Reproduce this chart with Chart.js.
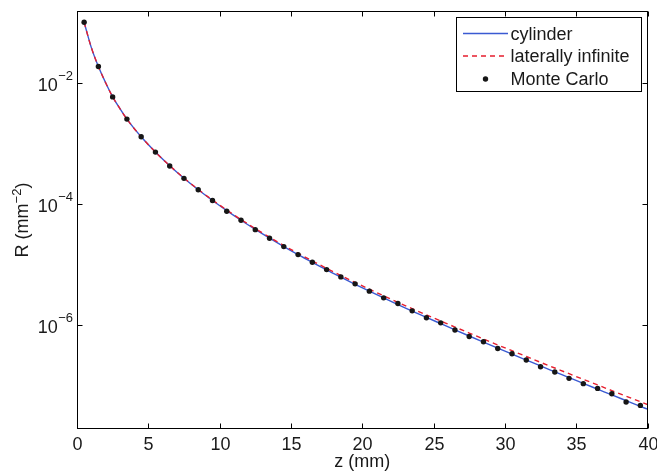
<!DOCTYPE html>
<html><head><meta charset="utf-8">
<script src="https://cdn.jsdelivr.net/npm/chart.js@4/dist/chart.umd.min.js"></script>
<style>html,body{margin:0;padding:0;background:#fff;}#wrap{width:657px;height:472px;}</style>
</head><body><div id="wrap"><canvas id="c" width="657" height="472"></canvas></div>
<script>
// ---------------- data ----------------
const seriesNames = ['cylinder', 'laterally infinite', 'Monte Carlo'];
const zCurve = [0.5,1,1.5,2,2.5,3,3.5,4.5,5.5,6.5,7.5,8.5,9.5,10.5,11.5,12.5,13.5,14.5,15.5,16.5,17.5,18.5,19.5,20.5,21.5,22.5,23.5,24.5,25.5,26.5,27.5,28.5,29.5,30.5,31.5,32.5,33.5,34.5,35.5,36.5,37.5,38.5,39.5,40];
const cylinder = [1.00e-1,3.86e-2,1.86e-2,1.015e-2,5.88e-3,3.78e-3,2.52e-3,1.287e-3,7.20e-4,4.265e-4,2.653e-4,1.715e-4,1.142e-4,7.78e-5,5.39e-5,3.80e-5,2.725e-5,1.979e-5,1.458e-5,1.087e-5,8.16e-6,6.20e-6,4.726e-6,3.634e-6,2.812e-6,2.186e-6,1.706e-6,1.341e-6,1.058e-6,8.35e-7,6.61e-7,5.24e-7,4.16e-7,3.32e-7,2.65e-7,2.117e-7,1.696e-7,1.358e-7,1.088e-7,8.75e-8,7.04e-8,5.66e-8,4.55e-8,4.09e-8];
const laterallyInfinite = [1.00e-1,3.86e-2,1.86e-2,1.015e-2,5.88e-3,3.78e-3,2.52e-3,1.287e-3,7.20e-4,4.29e-4,2.678e-4,1.738e-4,1.162e-4,7.95e-5,5.54e-5,3.92e-5,2.83e-5,2.065e-5,1.53e-5,1.147e-5,8.66e-6,6.61e-6,5.07e-6,3.92e-6,3.05e-6,2.38e-6,1.868e-6,1.476e-6,1.171e-6,9.29e-7,7.40e-7,5.89e-7,4.71e-7,3.78e-7,3.03e-7,2.43e-7,1.957e-7,1.577e-7,1.27e-7,1.027e-7,8.30e-8,6.71e-8,5.43e-8,4.89e-8];
const zMC = [0.5,1.5,2.5,3.5,4.5,5.5,6.5,7.5,8.5,9.5,10.5,11.5,12.5,13.5,14.5,15.5,16.5,17.5,18.5,19.5,20.5,21.5,22.5,23.5,24.5,25.5,26.5,27.5,28.5,29.5,30.5,31.5,32.5,33.5,34.5,35.5,36.5,37.5,38.5,39.5];
const monteCarlo = [1.00e-1,1.862e-2,5.87e-3,2.52e-3,1.29e-3,7.19e-4,4.24e-4,2.65e-4,1.72e-4,1.14e-4,7.59e-5,5.38e-5,3.77e-5,2.72e-5,1.98e-5,1.46e-5,1.09e-5,8.26e-6,6.25e-6,4.80e-6,3.64e-6,2.82e-6,2.27e-6,1.72e-6,1.32e-6,1.09e-6,8.28e-7,6.49e-7,5.31e-7,4.11e-7,3.37e-7,2.65e-7,2.05e-7,1.68e-7,1.32e-7,1.08e-7,9.02e-8,7.36e-8,5.37e-8,4.72e-8];
const xTicks = [0,5,10,15,20,25,30,35,40];
const yTickExponents = [-2,-4,-6];
const xRange = [0, 40];
const yRange = [2.0e-8, 0.148];
const xTitle = 'z (mm)';
const yTitleParts = ['R (mm', '\u22122', ')'];

// ---------------- drawing ----------------
const FONT = "'Liberation Sans', Arial, Helvetica, sans-serif";
const MAIN = 18, SUP = 13;
const TXT = '#1a1a1a';

const toPts = (xs, ys) => xs.map((x, i) => ({x, y: ys[i]}));

const decor = {
  id: 'decor',
  afterDraw(chart) {
    const {ctx, chartArea: a, scales: {x, y}} = chart;
    ctx.save();
    const L = Math.round(a.left) + 0.5, R = Math.round(a.right) - 0.5;
    const T = Math.round(a.top) - 0.5, B = Math.round(a.bottom) + 0.5;
    ctx.strokeStyle = '#000'; ctx.lineWidth = 1;
    ctx.strokeRect(L, T, R - L, B - T);
    const seg = (x1, y1, x2, y2) => { ctx.beginPath(); ctx.moveTo(x1, y1); ctx.lineTo(x2, y2); ctx.stroke(); };
    ctx.fillStyle = TXT;
    ctx.textAlign = 'center'; ctx.textBaseline = 'alphabetic';
    ctx.font = MAIN + 'px ' + FONT;
    for (const v of xTicks) {
      const px = Math.round(x.getPixelForValue(v)) + 0.5;
      seg(px, B, px, B - 5); seg(px, T, px, T + 5);
      ctx.fillText(String(v), px, 450);
    }
    ctx.fillText(xTitle, (a.left + a.right) / 2, 467);
    for (const e of yTickExponents) {
      const py = Math.round(y.getPixelForValue(Math.pow(10, e))) + 0.5;
      seg(L, py, L + 5, py); seg(R, py, R - 5, py);
      ctx.font = MAIN + 'px ' + FONT;
      const w1 = ctx.measureText('10').width;
      ctx.font = SUP + 'px ' + FONT;
      const sup = '\u2212' + Math.abs(e);
      const w2 = ctx.measureText(sup).width;
      const x0 = L - 5 - w1 - w2;
      ctx.textAlign = 'left';
      ctx.font = MAIN + 'px ' + FONT;
      ctx.fillText('10', x0, py + 7.5);
      ctx.font = SUP + 'px ' + FONT;
      ctx.fillText(sup, x0 + w1 + 0.5, py - 4);
      ctx.textAlign = 'center';
    }
    // y title
    ctx.save();
    ctx.translate(28, (a.top + a.bottom) / 2);
    ctx.rotate(-Math.PI / 2);
    ctx.textAlign = 'left';
    ctx.font = MAIN + 'px ' + FONT; const wa = ctx.measureText(yTitleParts[0]).width, wc = ctx.measureText(yTitleParts[2]).width;
    ctx.font = SUP + 'px ' + FONT; const wb = ctx.measureText(yTitleParts[1]).width;
    let sx = -(wa + wb + wc) / 2;
    ctx.font = MAIN + 'px ' + FONT; ctx.fillText(yTitleParts[0], sx, 0); sx += wa;
    ctx.font = SUP + 'px ' + FONT; ctx.fillText(yTitleParts[1], sx, -7); sx += wb;
    ctx.font = MAIN + 'px ' + FONT; ctx.fillText(yTitleParts[2], sx, 0);
    ctx.restore();
    // legend
    const bx = 456.5, by = 17.5, bw = 185, bh = 74;
    ctx.fillStyle = '#fff'; ctx.fillRect(bx, by, bw, bh);
    ctx.strokeStyle = '#000'; ctx.lineWidth = 1; ctx.strokeRect(bx, by, bw, bh);
    const rows = [33.5, 56, 79];
    chart.data.datasets.forEach((ds, i) => {
      const cy = rows[i];
      if (ds.showLine === false) {
        ctx.fillStyle = ds.pointBackgroundColor;
        ctx.beginPath(); ctx.arc(485.5, cy, ds.pointRadius, 0, Math.PI * 2); ctx.fill();
      } else {
        ctx.strokeStyle = ds.borderColor; ctx.lineWidth = ds.borderWidth;
        ctx.setLineDash(ds.borderDash || []);
        seg(463, cy, 508, cy);
        ctx.setLineDash([]);
      }
      ctx.fillStyle = TXT; ctx.textAlign = 'left'; ctx.font = MAIN + 'px ' + FONT;
      ctx.fillText(ds.label, 510.5, cy + 6);
    });
    ctx.restore();
  }
};

new Chart(document.getElementById('c'), {
  type: 'line',
  data: {
    datasets: [
      { label: seriesNames[0], data: toPts(zCurve, cylinder), borderColor: '#3a5ad2', borderWidth: 1.4,
        pointRadius: 0, cubicInterpolationMode: 'monotone', fill: false, order: 3 },
      { label: seriesNames[1], data: toPts(zCurve, laterallyInfinite), borderColor: '#e61e2e', borderWidth: 1.4,
        borderDash: [5, 4], pointRadius: 0, cubicInterpolationMode: 'monotone', fill: false, order: 2 },
      { label: seriesNames[2], data: toPts(zMC, monteCarlo), showLine: false, pointRadius: 2.7,
        pointBackgroundColor: '#161616', pointBorderWidth: 0, pointBorderColor: '#161616', order: 1 }
    ]
  },
  options: {
    responsive: false, animation: false, devicePixelRatio: 1,
    layout: { padding: { top: 12, right: 9.5, left: 0, bottom: 0 } },
    plugins: { legend: { display: false }, tooltip: { enabled: false } },
    scales: {
      x: { type: 'linear', min: xRange[0], max: xRange[1], grid: { display: false, drawTicks: false },
           border: { display: false }, ticks: { display: false }, afterFit(s) { s.height = 44; } },
      y: { type: 'logarithmic', min: yRange[0], max: yRange[1], grid: { display: false, drawTicks: false },
           border: { display: false }, ticks: { display: false }, afterFit(s) { s.width = 77; } }
    }
  },
  plugins: [decor]
});
</script></body></html>
